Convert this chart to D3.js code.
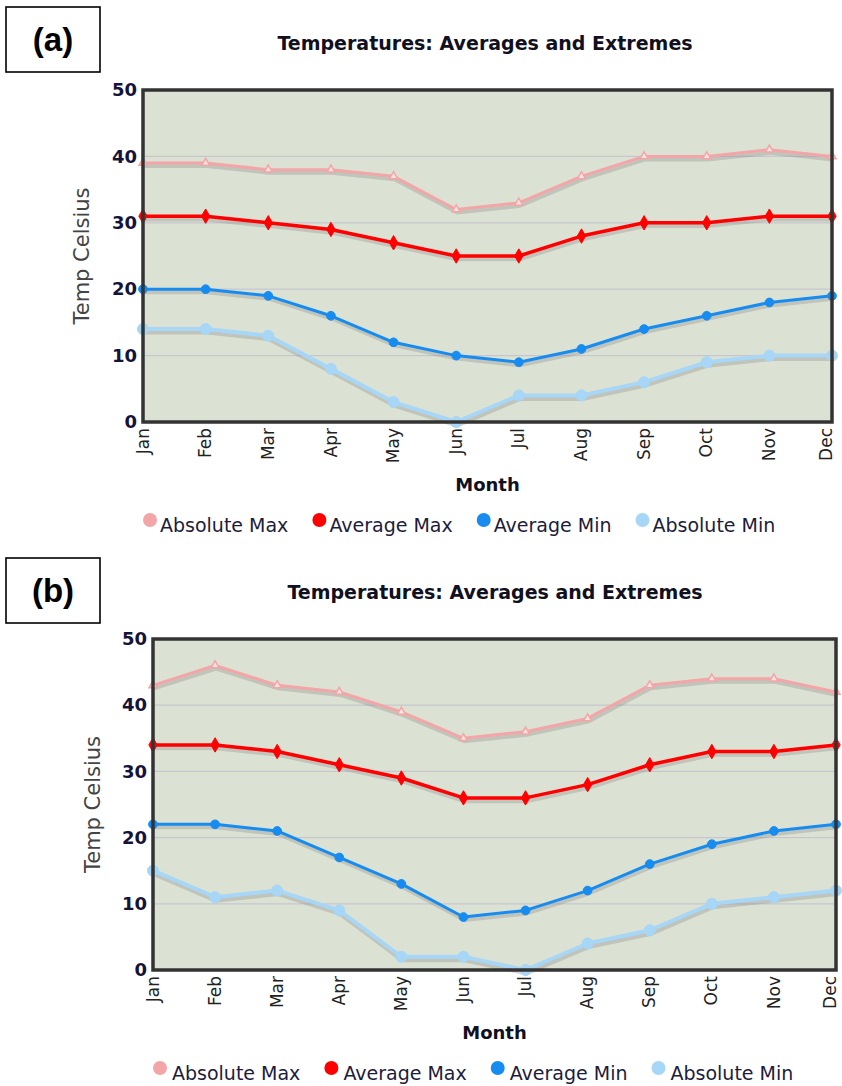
<!DOCTYPE html>
<html>
<head>
<meta charset="utf-8">
<script src="https://cdn.jsdelivr.net/npm/d3@7"></script>
<style>
body { margin: 0; background: #fff; }
svg { display: block; font-family: "DejaVu Sans", Verdana, sans-serif; }
</style>
</head>
<body>
<svg id="chart" width="842" height="1086"></svg>
<script>
// categories / ticks
var months = ["Jan", "Feb", "Mar", "Apr", "May", "Jun", "Jul", "Aug", "Sep", "Oct", "Nov", "Dec"];
var yTicks = [0, 10, 20, 30, 40, 50];
var seriesNames = ["Absolute Max", "Average Max", "Average Min", "Absolute Min"];
var seriesColors = ["#f4a5a7", "#ff0000", "#178cf0", "#a7d6f6"];

// panel (a)
var absMaxA = [39, 39, 38, 38, 37, 32, 33, 37, 40, 40, 41, 40];
var avgMaxA = [31, 31, 30, 29, 27, 25, 25, 28, 30, 30, 31, 31];
var avgMinA = [20, 20, 19, 16, 12, 10, 9, 11, 14, 16, 18, 19];
var absMinA = [14, 14, 13, 8, 3, 0, 4, 4, 6, 9, 10, 10];

// panel (b)
var absMaxB = [43, 46, 43, 42, 39, 35, 36, 38, 43, 44, 44, 42];
var avgMaxB = [34, 34, 33, 31, 29, 26, 26, 28, 31, 33, 33, 34];
var avgMinB = [22, 22, 21, 17, 13, 8, 9, 12, 16, 19, 21, 22];
var absMinB = [15, 11, 12, 9, 2, 2, 0, 4, 6, 10, 11, 12];

var panels = [
    {tag: "(a)", values: [absMaxA, avgMaxA, avgMinA, absMinA],
     box: {x: 6, y: 7, w: 94, h: 65},
     left: 143, right: 832, top: 90, bottom: 422,
     titleX: 485, titleY: 50, yLabelX: 89, monthY: 491,
     legendX: 150, legendY: 520, legendGap: 10},
    {tag: "(b)", values: [absMaxB, avgMaxB, avgMinB, absMinB],
     box: {x: 6, y: 558, w: 94, h: 65},
     left: 153, right: 836, top: 639, bottom: 970,
     titleX: 495, titleY: 599, yLabelX: 100, monthY: 1039,
     legendX: 160, legendY: 1068, legendGap: 12}
];

var svg = d3.select("#chart");

// marker shapes for each series
var markers = [
    {sym: d3.symbolTriangle, size: 28, fill: "#fbe3e3"},
    {sym: d3.symbolDiamond, size: 60, fill: null},
    {sym: d3.symbolCircle, size: 60, fill: null},
    {sym: d3.symbolCircle, size: 95, fill: null}
];
var lineWidths = [3, 3.5, 3, 4];

function drawPanel(p) {
    var g = svg.append("g");

    var x = d3.scalePoint().domain(months).range([p.left, p.right]);
    var y = d3.scaleLinear().domain([0, 50]).range([p.bottom, p.top]);

    // label box
    g.append("rect")
        .attr("x", p.box.x).attr("y", p.box.y)
        .attr("width", p.box.w).attr("height", p.box.h)
        .style("fill", "#fff").style("stroke", "#000").style("stroke-width", 1.6);
    g.append("text")
        .attr("x", p.box.x + p.box.w / 2).attr("y", p.box.y + p.box.h / 2 + 11)
        .attr("text-anchor", "middle")
        .style("font-family", "'Liberation Sans', Arial, sans-serif")
        .style("font-weight", "bold").style("font-size", "33px")
        .text(p.tag);

    // title
    g.append("text")
        .attr("x", p.titleX).attr("y", p.titleY)
        .attr("text-anchor", "middle")
        .style("font-weight", "bold").style("font-size", "19px").style("fill", "#101020")
        .text("Temperatures: Averages and Extremes");

    // plot background
    g.append("rect")
        .attr("x", p.left).attr("y", p.top)
        .attr("width", p.right - p.left).attr("height", p.bottom - p.top)
        .style("fill", "#dce2d3");

    // grid lines
    g.selectAll(".grid")
        .data(yTicks.filter(function (d) { return d > 0 && d < 50; }))
        .enter().append("line")
        .attr("x1", p.left).attr("x2", p.right)
        .attr("y1", function (d) { return y(d); })
        .attr("y2", function (d) { return y(d); })
        .style("stroke", "#c6c6cf").style("stroke-width", 1.2);

    var line = d3.line()
        .x(function (d, i) { return x(months[i]); })
        .y(function (d) { return y(d); });

    // shadows
    p.values.forEach(function (vals, k) {
        g.append("path").datum(vals)
            .attr("d", line)
            .attr("transform", "translate(1,3)")
            .style("fill", "none").style("stroke", "#8c8c8c")
            .style("stroke-opacity", 0.35)
            .style("stroke-width", lineWidths[k] + 1);
    });

    // lines + markers
    p.values.forEach(function (vals, k) {
        g.append("path").datum(vals)
            .attr("d", line)
            .style("fill", "none").style("stroke", seriesColors[k])
            .style("stroke-width", lineWidths[k])
            .style("stroke-linejoin", "round");
        g.selectAll(".m" + k)
            .data(vals)
            .enter().append("path")
            .attr("d", d3.symbol().type(markers[k].sym).size(markers[k].size))
            .attr("transform", function (d, i) {
                return "translate(" + x(months[i]) + "," + y(d) + ")";
            })
            .style("fill", markers[k].fill || seriesColors[k])
            .style("stroke", seriesColors[k])
            .style("stroke-width", k === 0 ? 1.5 : 1);
    });

    // frame
    g.append("rect")
        .attr("x", p.left).attr("y", p.top)
        .attr("width", p.right - p.left).attr("height", p.bottom - p.top)
        .style("fill", "none").style("stroke", "#333").style("stroke-width", 3.5);

    // y axis
    var yAxis = g.append("g")
        .attr("transform", "translate(" + p.left + ",0)")
        .call(d3.axisLeft(y).tickValues(yTicks).tickSize(0).tickPadding(6));
    yAxis.select(".domain").remove();
    yAxis.attr("font-family", null).attr("font-size", null);
    yAxis.selectAll("text")
        .style("font-weight", "bold").style("font-size", "18px").style("fill", "#14143a");

    // x axis (last label nudged so it stays inside the page)
    var xAxis = g.append("g")
        .attr("transform", "translate(0," + p.bottom + ")")
        .call(d3.axisBottom(x).tickSize(0));
    xAxis.select(".domain").remove();
    xAxis.attr("font-family", null).attr("font-size", null);
    xAxis.selectAll("text")
        .attr("transform", "rotate(-90)")
        .attr("text-anchor", "end")
        .attr("x", -6).attr("y", 0)
        .attr("dy", function (d, i) { return i === months.length - 1 ? "-0.05em" : "0.3em"; })
        .style("font-size", "17px").style("fill", "#222");

    // axis titles
    g.append("text")
        .attr("transform", "translate(" + p.yLabelX + "," + ((p.top + p.bottom) / 2) + ") rotate(-90)")
        .attr("text-anchor", "middle")
        .style("font-size", "21px").style("fill", "#444")
        .text("Temp Celsius");
    g.append("text")
        .attr("x", (p.left + p.right) / 2).attr("y", p.monthY)
        .attr("text-anchor", "middle")
        .style("font-weight", "bold").style("font-size", "18px").style("fill", "#101020")
        .text("Month");

    // legend
    var lx = p.legendX;
    seriesNames.forEach(function (name, k) {
        g.append("circle")
            .attr("cx", lx).attr("cy", p.legendY).attr("r", 7)
            .style("fill", seriesColors[k]);
        var t = g.append("text")
            .attr("x", lx + p.legendGap).attr("y", p.legendY + 12)
            .style("font-size", "19px").style("fill", "#1c1c3c")
            .text(name);
        lx = lx + p.legendGap + t.node().getComputedTextLength() + 31;
    });
}

panels.forEach(drawPanel);
</script>
</body>
</html>
